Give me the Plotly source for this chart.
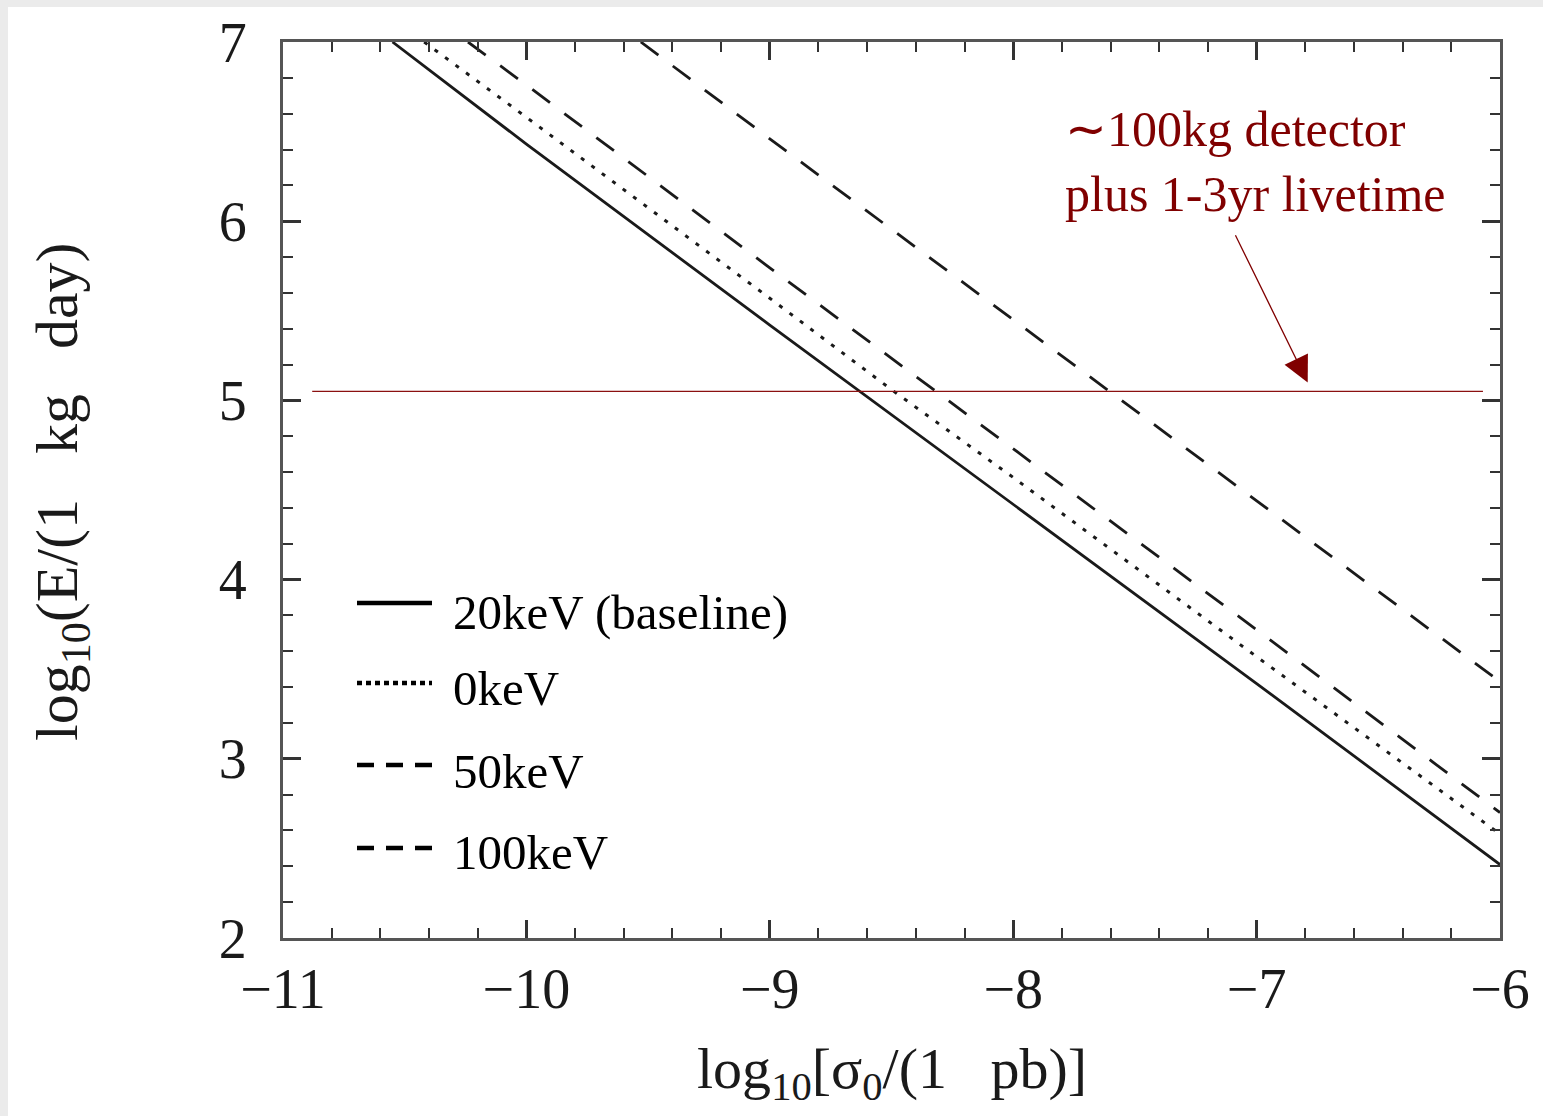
import plotly.graph_objects as go

# Exposure needed versus cross-section, for several recoil-energy thresholds
x_20kev = [-10.55, -10.0, -9.0, -8.0, -7.0, -6.0]
y_20kev = [7.00, 6.43, 5.42, 4.42, 3.42, 2.41]

x_0kev = [-10.42, -10.0, -9.0, -8.5, -8.0, -7.0, -6.0]
y_0kev = [7.00, 6.58, 5.57, 5.06, 4.57, 3.57, 2.58]

x_50kev = [-10.24, -10.0, -9.0, -8.0, -7.0, -6.0]
y_50kev = [7.00, 6.76, 5.74, 4.73, 3.72, 2.70]

x_100kev = [-9.53, -9.0, -8.0, -7.0, -6.0]
y_100kev = [7.00, 6.46, 5.45, 4.44, 3.43]

# ~100 kg detector with 1-3 yr livetime
x_detector = [-10.88, -6.07]
y_detector = [5.05, 5.05]

x_ticks = [-11, -10, -9, -8, -7, -6]
x_ticktext = ["\u221211", "\u221210", "\u22129", "\u22128", "\u22127", "\u22126"]
y_ticks = [2, 3, 4, 5, 6, 7]
y_ticktext = ["2", "3", "4", "5", "6", "7"]

legend_labels = ["20keV (baseline)", "0keV", "50keV", "100keV"]

W, H = 1543, 1116
L, R, T, B = 283, 43, 42, 178
PW, PH = W - L - R, H - T - B

def px(xp):
    return (xp - L) / PW

def py(yp):
    return (H - B - yp) / PH

SERIF = "Liberation Serif"
INK = "#1a1a1a"
RED = "#800000"

fig = go.Figure()

line_styles = [
    dict(x=x_20kev, y=y_20kev, dash="solid", width=2.8),
    dict(x=x_0kev, y=y_0kev, dash="4px,9px", width=3.0),
    dict(x=x_50kev, y=y_50kev, dash="22px,18px", width=2.8),
    dict(x=x_100kev, y=y_100kev, dash="22px,18px", width=2.8),
]
for s, name in zip(line_styles, legend_labels):
    fig.add_trace(go.Scatter(
        x=s["x"], y=s["y"], mode="lines", name=name, showlegend=False,
        line=dict(color=INK, width=s["width"], dash=s["dash"]),
    ))

fig.add_trace(go.Scatter(
    x=x_detector, y=y_detector, mode="lines", showlegend=False,
    line=dict(color="#8b1010", width=1.3),
))

axis_common = dict(
    showline=True, linecolor="#555555", linewidth=3, mirror="allticks",
    ticks="inside", ticklen=18, tickwidth=2.5, tickcolor="#333333",
    showgrid=False, zeroline=False,
    tickfont=dict(family=SERIF, size=56, color="#1a1a1a"),
    minor=dict(ticks="inside", ticklen=10, tickwidth=2.2, tickcolor="#333333", dtick=0.2, showgrid=False),
)

fig.update_layout(
    width=W, height=H,
    margin=dict(l=L, r=R, t=T, b=B),
    paper_bgcolor="white", plot_bgcolor="white",
    xaxis=dict(range=[-11, -6], tickvals=x_ticks, ticktext=x_ticktext,
               ticklabelstandoff=0, **axis_common),
    yaxis=dict(range=[2, 7], tickvals=y_ticks, ticktext=y_ticktext,
               ticklabelstandoff=22, **axis_common),
    showlegend=False,
)

annotations = []
# axis titles
annotations.append(dict(
    xref="paper", yref="paper", x=px(892), y=py(1072), xanchor="center", yanchor="middle",
    text="log<sub>10</sub>[\u03c3<sub>0</sub>/(1\u00a0\u00a0\u00a0pb)]", showarrow=False,
    font=dict(family=SERIF, size=58, color="#1a1a1a"),
))
annotations.append(dict(
    xref="paper", yref="paper", x=px(62), y=py(492), xanchor="center", yanchor="middle",
    text="log<sub>10</sub>(E/(1\u00a0\u00a0\u00a0kg\u00a0\u00a0\u00a0day)", showarrow=False, textangle=-90,
    font=dict(family=SERIF, size=60, color="#1a1a1a"),
))

# detector note with arrow
annotations.append(dict(
    xref="paper", yref="paper", x=px(1063), y=py(161), xanchor="left", yanchor="middle", align="left",
    text="\u223c100kg detector<br>plus 1-3yr livetime", showarrow=False,
    font=dict(family=SERIF, size=50, color=RED),
))
annotations.append(dict(
    xref="x", yref="y", axref="x", ayref="y",
    x=-6.79, y=5.10, ax=-7.09, ay=5.93, text="",
    showarrow=True, arrowhead=2, arrowsize=4, arrowwidth=1.3, arrowcolor=RED,
))

# hand-drawn legend
legend_rows = [603, 683, 765, 848]
legend_text_y = [612, 688, 771, 852]
legend_dash = ["solid", "5px,4px", "17px,12px", "17px,12px"]
shapes = []
for yr, ty, d, lab in zip(legend_rows, legend_text_y, legend_dash, legend_labels):
    shapes.append(dict(type="line", xref="paper", yref="paper",
                       x0=px(357), x1=px(432), y0=py(yr), y1=py(yr),
                       line=dict(color="black", width=4.5, dash=d)))
    annotations.append(dict(
        xref="paper", yref="paper", x=px(451), y=py(ty), xanchor="left", yanchor="middle",
        text=lab, showarrow=False, font=dict(family=SERIF, size=49, color="black"),
    ))

# light textured border along top and left edges of the page
shapes.append(dict(type="rect", xref="paper", yref="paper", x0=px(0), x1=px(W), y0=py(0), y1=py(7),
                   line=dict(width=0), fillcolor="#ebebeb", layer="below"))
shapes.append(dict(type="rect", xref="paper", yref="paper", x0=px(0), x1=px(8), y0=py(0), y1=py(H),
                   line=dict(width=0), fillcolor="#ebebeb", layer="below"))

fig.update_layout(annotations=annotations, shapes=shapes)

fig.write_html("out.html")
